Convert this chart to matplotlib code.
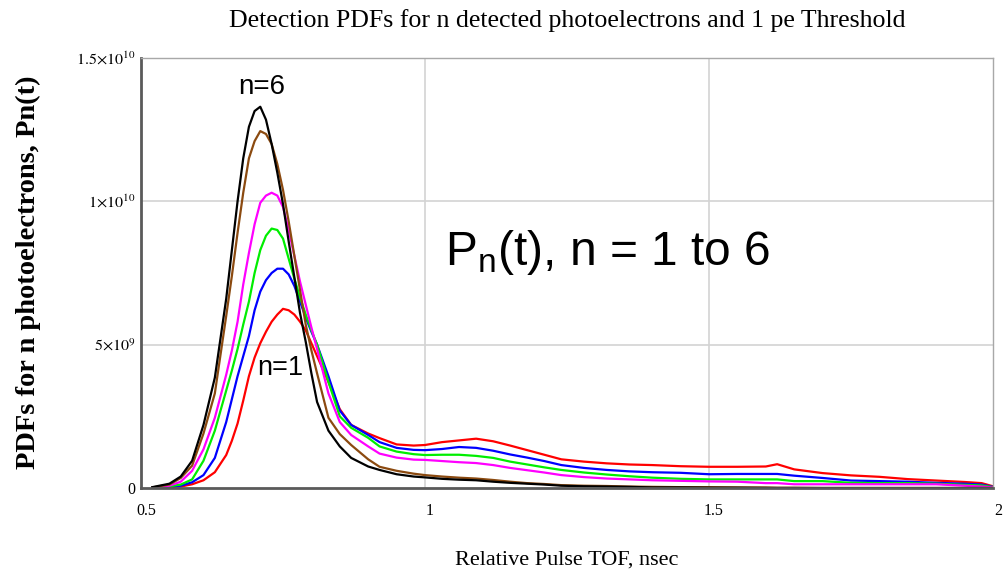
import matplotlib
matplotlib.use("Agg")
import matplotlib.pyplot as plt
import matplotlib.transforms as mtransforms
import numpy as np

plt.rcParams["mathtext.fontset"] = "stix"

# Relative pulse time of flight (ns)
t_ns = [0.52, 0.55, 0.57, 0.59, 0.61, 0.63, 0.65,
        0.66, 0.67, 0.68, 0.69, 0.70, 0.71, 0.72, 0.73,
        0.74, 0.75, 0.76, 0.77, 0.78, 0.79, 0.80, 0.81,
        0.83, 0.85, 0.87, 0.90, 0.92, 0.95, 0.98, 1.00, 1.03, 1.06,
        1.09, 1.12, 1.15, 1.18, 1.21, 1.24, 1.28, 1.32, 1.36, 1.40,
        1.45, 1.50, 1.55, 1.60, 1.62, 1.65, 1.70, 1.75, 1.80, 1.85,
        1.90, 1.95, 1.98, 2.00]

# PDFs for n detected photoelectrons, in units of 1e9
pdf_n1 = [0.01, 0.03, 0.05, 0.13, 0.27, 0.55, 1.15,
          1.65, 2.25, 3.05, 3.9, 4.55, 5.05, 5.45, 5.8,
          6.05, 6.25, 6.2, 6.05, 5.8, 5.5, 5.05, 4.6,
          3.7, 2.75, 2.2, 1.9, 1.74, 1.52, 1.48, 1.5, 1.6, 1.66,
          1.72, 1.63, 1.48, 1.32, 1.16, 1.0, 0.92, 0.86, 0.82, 0.8,
          0.76, 0.74, 0.74, 0.75, 0.83, 0.65, 0.52, 0.44, 0.39, 0.31,
          0.26, 0.21, 0.17, 0.06]
pdf_n2 = [0.01, 0.05, 0.08, 0.2, 0.45, 1.05, 2.3,
          3.1, 3.9, 4.6, 5.3, 6.2, 6.85, 7.25, 7.5,
          7.65, 7.65, 7.45, 7.05, 6.5, 5.95, 5.45, 5.0,
          3.9, 2.7, 2.2, 1.85, 1.6, 1.4, 1.33, 1.32, 1.36, 1.43,
          1.4, 1.3, 1.17, 1.06, 0.94, 0.8, 0.7, 0.63, 0.58, 0.55,
          0.53, 0.48, 0.49, 0.49, 0.49, 0.43, 0.35, 0.26, 0.24, 0.22,
          0.18, 0.15, 0.12, 0.04]
pdf_n3 = [0.01, 0.06, 0.12, 0.3, 0.95, 2.0, 3.4,
          4.1, 4.85, 5.7, 6.5, 7.5, 8.3, 8.8, 9.05,
          9.0, 8.7, 8.0, 7.3, 6.65, 6.05, 5.5, 5.0,
          3.7, 2.5, 2.1, 1.75, 1.45, 1.27, 1.18, 1.15, 1.16, 1.16,
          1.12, 1.05, 0.92, 0.82, 0.72, 0.63, 0.54, 0.47, 0.41, 0.36,
          0.32, 0.30, 0.30, 0.30, 0.30, 0.24, 0.24, 0.18, 0.17, 0.17,
          0.15, 0.11, 0.09, 0.03]
pdf_n4 = [0.01, 0.08, 0.22, 0.6, 1.35, 2.45, 3.95,
          4.8, 5.8, 7.1, 8.2, 9.2, 9.95, 10.2, 10.3,
          10.2, 9.8, 9.0, 8.1, 7.2, 6.4, 5.6, 4.85,
          3.3, 2.3, 1.85, 1.45, 1.2, 1.06, 0.99, 0.98, 0.94, 0.9,
          0.87, 0.8, 0.7, 0.62, 0.54, 0.45, 0.38, 0.33, 0.3, 0.27,
          0.25, 0.23, 0.22, 0.17, 0.17, 0.13, 0.13, 0.13, 0.13, 0.13,
          0.13, 0.08, 0.05, 0.02]
pdf_n5 = [0.02, 0.12, 0.35, 0.78, 1.9, 3.3, 6.0,
          7.4, 8.9, 10.3, 11.5, 12.1, 12.45, 12.35, 12.0,
          11.3, 10.4, 9.3, 8.1, 6.9, 5.7, 4.8, 4.0,
          2.45, 1.88, 1.5, 1.0, 0.74, 0.6, 0.5, 0.45, 0.4, 0.36,
          0.33, 0.28, 0.22, 0.17, 0.14, 0.1, 0.08, 0.07, 0.05, 0.04,
          0.03, 0.03, 0.02, 0.02, 0.01, 0.01, 0.0, 0.0, 0.0, 0.0,
          0.0, 0.0, 0.0, 0.0]
pdf_n6 = [0.03, 0.15, 0.4, 0.95, 2.2, 3.85, 6.6,
          8.3, 10.0, 11.5, 12.6, 13.15, 13.3, 12.85, 12.0,
          11.0, 9.9, 8.6, 7.35, 6.1, 5.1, 4.0, 3.0,
          2.0, 1.45, 1.05, 0.75, 0.63, 0.48, 0.4, 0.37, 0.32, 0.29,
          0.27, 0.22, 0.18, 0.15, 0.12, 0.08, 0.06, 0.05, 0.04, 0.02,
          0.02, 0.01, 0.01, 0.0, 0.0, 0.0, 0.0, 0.0, 0.0, 0.0,
          0.0, 0.0, 0.0, 0.0]

series = [pdf_n1, pdf_n2, pdf_n3, pdf_n4, pdf_n5, pdf_n6]
colors = ["#ff0000", "#0000ff", "#00ee00", "#ff00ff", "#8b4a10", "#000000"]

x_ticks = [0.5, 1.0, 1.5, 2.0]
x_ticklabels = ["0.5", "1", "1.5", "2"]
y_ticks = [0, 5e9, 1e10, 1.5e10]
y_ticklabels = ["0", r"$5{\times}10^{9}$", r"$1{\times}10^{10}$", r"$1.5{\times}10^{10}$"]

W, H = 1007, 575
fig = plt.figure(figsize=(W / 100, H / 100), dpi=100)
ax = fig.add_axes([141 / W, 1 - 488 / H, (993 - 141) / W, (488 - 58) / H])

t = np.array(t_ns)
for vals, c in zip(series, colors):
    ax.plot(t, np.array(vals) * 1e9, color=c, lw=1.6, solid_joinstyle="round")

ax.set_xlim(0.5, 2.0)
ax.set_ylim(0, 1.5e10)
ax.set_xticks(x_ticks)
ax.set_xticklabels(x_ticklabels)
ax.set_yticks(y_ticks)
ax.set_yticklabels(y_ticklabels)
ax.tick_params(length=0, labelsize=11.5)
ax.tick_params(axis="x", pad=11)
ax.tick_params(axis="y", pad=4)
for lab in ax.get_xticklabels() + ax.get_yticklabels():
    lab.set_fontfamily("Liberation Serif")
shift = mtransforms.ScaledTranslation(5 / 100, 0, fig.dpi_scale_trans)
for lab in ax.get_xticklabels():
    lab.set_transform(lab.get_transform() + shift)

for xv in [1.0, 1.5]:
    ax.axvline(xv, color="#d3d3d3", lw=1.2, zorder=0)
for yv in [5e9, 1e10]:
    ax.axhline(yv, color="#d3d3d3", lw=1.2, zorder=0)

for side in ["left", "bottom"]:
    ax.spines[side].set_color("#5a5a5a")
    ax.spines[side].set_linewidth(2)
for side in ["top", "right"]:
    ax.spines[side].set_color("#a8a8a8")
    ax.spines[side].set_linewidth(1)

ax.text(0.712, 14.0e9, "n=6", ha="center", va="center",
        fontsize=20, family="Liberation Sans")
ax.text(0.745, 4.2e9, "n=1", ha="center", va="center",
        fontsize=19.5, family="Liberation Sans")
ax.text(1.035, 7.77e9, r"$\mathregular{P_n}$(t), n = 1 to 6", ha="left",
        va="baseline", fontsize=34.5, family="Liberation Sans")

fig.text(567 / W, 1 - 21 / H, "Detection PDFs for n detected photoelectrons and 1 pe Threshold",
         ha="center", va="center", fontsize=18.6, family="Liberation Serif")
fig.text(567 / W, 1 - 560 / H, "Relative Pulse TOF, nsec", ha="center", va="center",
         fontsize=16, family="Liberation Serif")
fig.text(28 / W, 1 - 272 / H, "PDFs for n photoelectrons, Pn(t)", ha="center", va="center",
         rotation=90, fontsize=20.5, fontweight="bold", family="Liberation Serif")

fig.savefig("out.png", dpi=100)
